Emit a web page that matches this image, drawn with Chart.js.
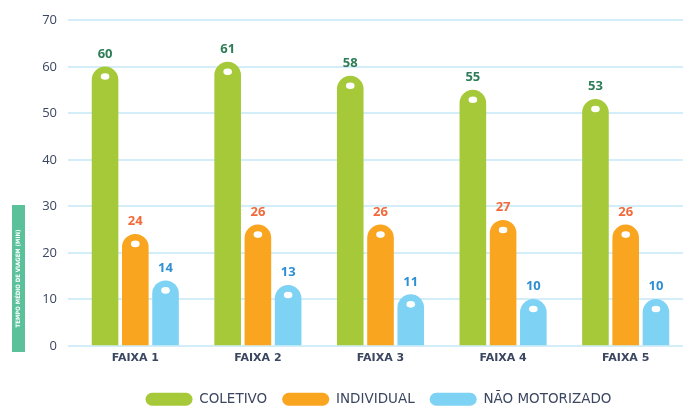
<!DOCTYPE html>
<html>
<head>
<meta charset="utf-8">
<script src="https://cdn.jsdelivr.net/npm/chart.js@4"></script>
<style>
  html, body { margin: 0; padding: 0; background: #fff; }
  #wrap { width: 687px; height: 407px; }
</style>
</head>
<body>
<div id="wrap"><canvas id="chart"></canvas></div>
<script>
// data
const faixas = ["FAIXA 1", "FAIXA 2", "FAIXA 3", "FAIXA 4", "FAIXA 5"];
const coletivo = [60, 61, 58, 55, 53];
const individual = [24, 26, 26, 27, 26];
const naoMotorizado = [14, 13, 11, 10, 10];
const yTicks = [0, 10, 20, 30, 40, 50, 60, 70];

const inkColor = "#3b4660";
const gridColor = "#d4eef9";

// horizontal grid lines and y tick labels, placed with the y scale
const gridLines = {
  id: "gridLines",
  beforeDatasetsDraw(chart) {
    const ctx = chart.ctx;
    const y = chart.scales.y;
    ctx.save();
    ctx.strokeStyle = gridColor;
    ctx.lineWidth = 2;
    ctx.fillStyle = inkColor;
    ctx.font = "13px 'Open Sans', sans-serif";
    ctx.textAlign = "right";
    ctx.textBaseline = "middle";
    yTicks.forEach(v => {
      const py = Math.round(y.getPixelForValue(v));
      ctx.beginPath();
      ctx.moveTo(68, py);
      ctx.lineTo(683, py);
      ctx.stroke();
      ctx.fillText(v, 57, py);
    });
    ctx.restore();
  }
};

// value labels + white dot on top of each bar
const barDecor = {
  id: "barDecor",
  afterDatasetsDraw(chart) {
    const ctx = chart.ctx;
    chart.data.datasets.forEach((ds, i) => {
      const meta = chart.getDatasetMeta(i);
      meta.data.forEach((bar, j) => {
        ctx.save();
        ctx.fillStyle = "#ffffff";
        ctx.beginPath();
        ctx.ellipse(bar.x, bar.y + 10, 4.3, 3.3, 0, 0, Math.PI * 2);
        ctx.fill();
        ctx.fillStyle = ds.labelColor;
        ctx.font = "bold 13px 'Open Sans', sans-serif";
        ctx.textAlign = "center";
        ctx.textBaseline = "bottom";
        ctx.fillText(ds.data[j], bar.x, bar.y - 6);
        ctx.restore();
      });
    });
  }
};

// green box with the vertical axis title
const axisTitle = {
  id: "axisTitle",
  afterDraw(chart) {
    const ctx = chart.ctx;
    const top = 205, bottom = 352, left = 12, w = 13;
    ctx.save();
    ctx.fillStyle = "#5bc19b";
    ctx.fillRect(left, top, w, bottom - top);
    ctx.translate(left + w / 2, (top + bottom) / 2);
    ctx.rotate(-Math.PI / 2);
    ctx.fillStyle = "#ffffff";
    ctx.font = "bold 6px 'DejaVu Sans Condensed', sans-serif";
    ctx.textAlign = "center";
    ctx.textBaseline = "middle";
    ctx.fillText("TEMPO MÉDIO DE VIAGEM (MIN)", 0, 0);
    ctx.restore();
  }
};

const common = {
  borderRadius: { topLeft: 20, topRight: 20, bottomLeft: 0, bottomRight: 0 },
  borderSkipped: false,
  categoryPercentage: 0.74,
  barPercentage: 0.88
};

new Chart(document.getElementById("chart"), {
  type: "bar",
  data: {
    labels: faixas,
    datasets: [
      { label: "COLETIVO", data: coletivo, backgroundColor: "#a6c93a", labelColor: "#2d7d57", ...common },
      { label: "INDIVIDUAL", data: individual, backgroundColor: "#f9a51f", labelColor: "#f3693a", ...common },
      { label: "NÃO MOTORIZADO", data: naoMotorizado, backgroundColor: "#7ed2f4", labelColor: "#2e8fd3", ...common }
    ]
  },
  options: {
    responsive: true,
    maintainAspectRatio: false,
    animation: false,
    layout: { padding: { top: 20, right: 0, left: 70, bottom: -9 } },
    plugins: {
      tooltip: { enabled: false },
      legend: {
        position: "bottom",
        labels: {
          boxWidth: 47,
          boxHeight: 13,
          useBorderRadius: true,
          borderRadius: 6.5,
          padding: 15,
          color: inkColor,
          font: { family: "'DejaVu Sans', sans-serif", size: 13.5 },
          generateLabels(chart) {
            return chart.data.datasets.map((ds, i) => ({
              text: ds.label,
              fillStyle: ds.backgroundColor,
              strokeStyle: ds.backgroundColor,
              lineWidth: 0,
              borderRadius: 6.5,
              fontColor: inkColor,
              datasetIndex: i
            }));
          }
        }
      }
    },
    scales: {
      x: {
        grid: { display: false, drawTicks: false },
        border: { display: false },
        afterFit(scale) { scale.height = 32; },
        ticks: {
          color: inkColor,
          padding: 6,
          font: { family: "'DejaVu Sans', sans-serif", size: 11, weight: "bold" }
        }
      },
      y: {
        min: 0,
        max: 70,
        afterBuildTicks(scale) { scale.ticks = yTicks.map(v => ({ value: v })); },
        afterFit(scale) { scale.width = 4; },
        grid: { display: false, drawTicks: false },
        border: { display: false },
        ticks: { display: false }
      }
    }
  },
  plugins: [gridLines, barDecor, axisTitle]
});
</script>
</body>
</html>
